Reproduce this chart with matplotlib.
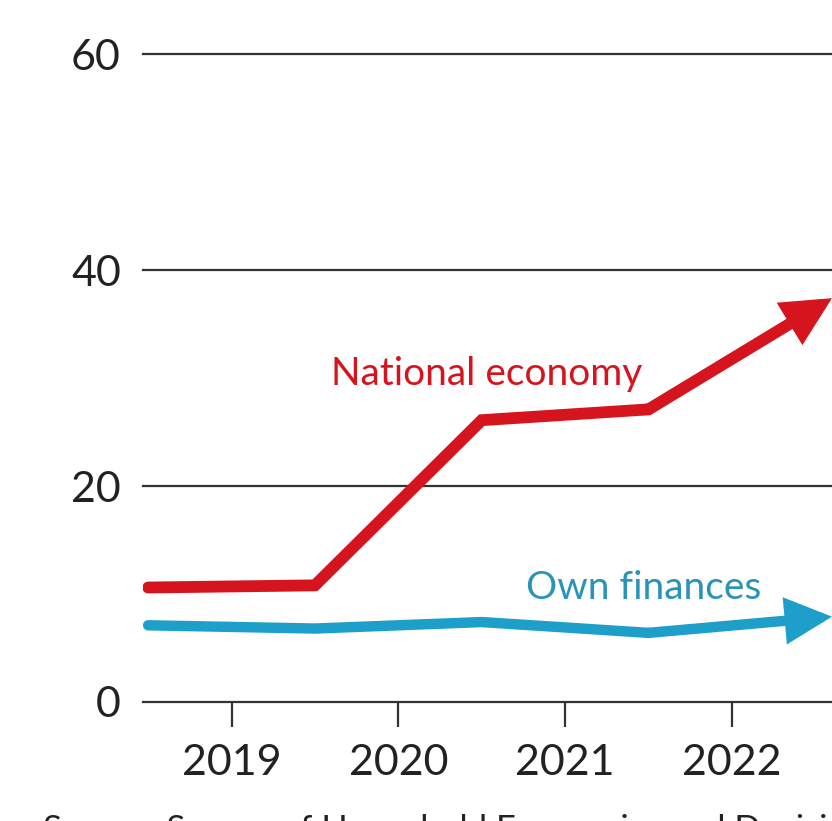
import matplotlib
matplotlib.use("Agg")
import matplotlib.pyplot as plt

# survey points sit mid-year
years = [2018.5, 2019.5, 2020.5, 2021.5, 2022.6]
national = [10.6, 10.8, 26.1, 27.1, 37.4]
own = [7.1, 6.8, 7.4, 6.4, 7.9]
yticks = [0, 20, 40, 60]
xticks = [2019, 2020, 2021, 2022]

RED = '#d6141e'
BLUE = '#1d9fca'

plt.rcParams['font.family'] = ['Lato', 'DejaVu Sans']

fig = plt.figure(figsize=(8.32, 8.21), dpi=100)
ax = fig.add_axes([0.172, 0.145, 0.828, 0.789])
ax.set_xlim(2018.47, 2022.6)
ax.set_ylim(0, 60)

for v in yticks:
    ax.axhline(v, color='#333333', lw=1.6, zorder=1, clip_on=False)

for vals, c, w in [(national, RED, 8.5), (own, BLUE, 7.5)]:
    ax.plot(years[:-1], vals[:-1], color=c, lw=w, solid_joinstyle='miter',
            solid_capstyle='round', zorder=3)
    ax.annotate('', xy=(years[-1], vals[-1]), xytext=(years[-2], vals[-2]),
                arrowprops=dict(arrowstyle='-|>,head_length=1.1,head_width=0.55',
                                mutation_scale=20, color=c, lw=w,
                                joinstyle='miter', shrinkA=0, shrinkB=0),
                annotation_clip=False, zorder=3)

ax.text(2020.53, 30.4, 'National economy', color=RED, fontsize=28, ha='center', va='center')
ax.text(2021.47, 10.6, 'Own finances', color='#2a93b8', fontsize=28, ha='center', va='center')

for s in ax.spines.values():
    s.set_visible(False)
ax.set_yticks(yticks)
ax.set_xticks(xticks)
ax.tick_params(axis='y', length=0, labelsize=31, colors='#222222', pad=16)
ax.tick_params(axis='x', length=18, width=1.6, direction='out', color='#333333',
               labelsize=31, labelcolor='#222222', pad=12)

fig.text(0.052, 0.009, 'Source: Survey of Household Economics and Decisionmaking',
         fontsize=25, color='#222222', va='top')

fig.savefig('out.png', dpi=100)
